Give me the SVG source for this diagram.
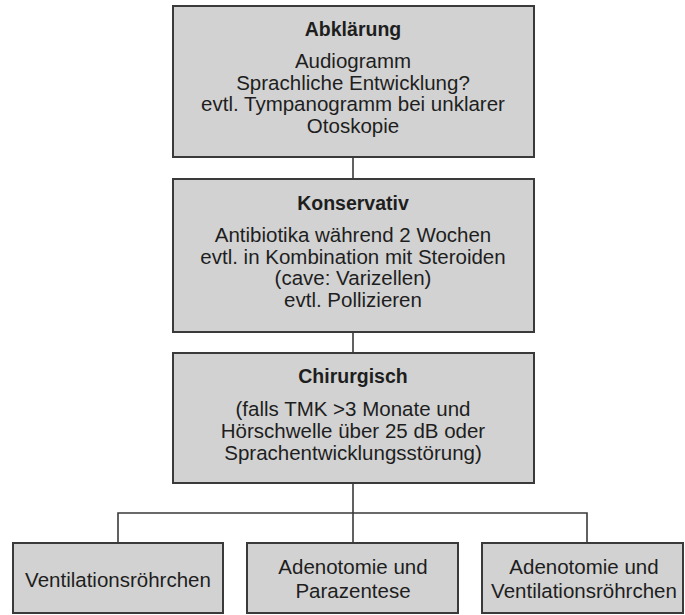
<svg xmlns="http://www.w3.org/2000/svg" width="685" height="615" viewBox="0 0 685 615">
<style>
.box{fill:#d2d2d2;stroke:#3a3a3a;stroke-width:2}
.t{font-family:"Liberation Sans",Arial,sans-serif;font-size:20.5px;fill:#1e1e1e;text-anchor:middle}
.b{font-weight:bold;font-size:19.5px}
.c{fill:none;stroke:#3a3a3a;stroke-width:1.6}
</style>
<rect width="685" height="615" fill="#ffffff"/>
<g id="connectors">
<line class="c" x1="353" y1="157" x2="353" y2="179"/>
<line class="c" x1="353" y1="332" x2="353" y2="353"/>
<line class="c" x1="353" y1="483" x2="353" y2="543"/>
<polyline class="c" points="118,543 118,513 587,513 587,543"/>
</g>
<g id="abklaerung">
<rect class="box" x="173" y="6" width="361" height="151"/>
<text class="t b" x="353" y="36">Abklärung</text>
<text class="t" x="353" y="68">Audiogramm</text>
<text class="t" x="353" y="89.5">Sprachliche Entwicklung?</text>
<text class="t" x="353" y="111">evtl. Tympanogramm bei unklarer</text>
<text class="t" x="353" y="133">Otoskopie</text>
</g>
<g id="konservativ">
<rect class="box" x="173" y="179" width="361" height="153"/>
<text class="t b" x="353" y="210">Konservativ</text>
<text class="t" x="353" y="242">Antibiotika während 2 Wochen</text>
<text class="t" x="353" y="263.5">evtl. in Kombination mit Steroiden</text>
<text class="t" x="353" y="285">(cave: Varizellen)</text>
<text class="t" x="353" y="307">evtl. Pollizieren</text>
</g>
<g id="chirurgisch">
<rect class="box" x="173" y="353" width="361" height="130"/>
<text class="t b" x="353" y="383">Chirurgisch</text>
<text class="t" x="353" y="416">(falls TMK &gt;3 Monate und</text>
<text class="t" x="353" y="438">Hörschwelle über 25 dB oder</text>
<text class="t" x="353" y="460">Sprachentwicklungsstörung)</text>
</g>
<g id="ventilationsroehrchen">
<rect class="box" x="13" y="543" width="210" height="70"/>
<text class="t" x="118" y="587">Ventilationsröhrchen</text>
</g>
<g id="adenotomie-parazentese">
<rect class="box" x="247" y="543" width="211" height="70"/>
<text class="t" x="353" y="574">Adenotomie und</text>
<text class="t" x="353" y="598">Parazentese</text>
</g>
<g id="adenotomie-ventilation">
<rect class="box" x="482" y="543" width="201" height="70"/>
<text class="t" x="584" y="574">Adenotomie und</text>
<text class="t" x="584" y="598">Ventilationsröhrchen</text>
</g>
</svg>
